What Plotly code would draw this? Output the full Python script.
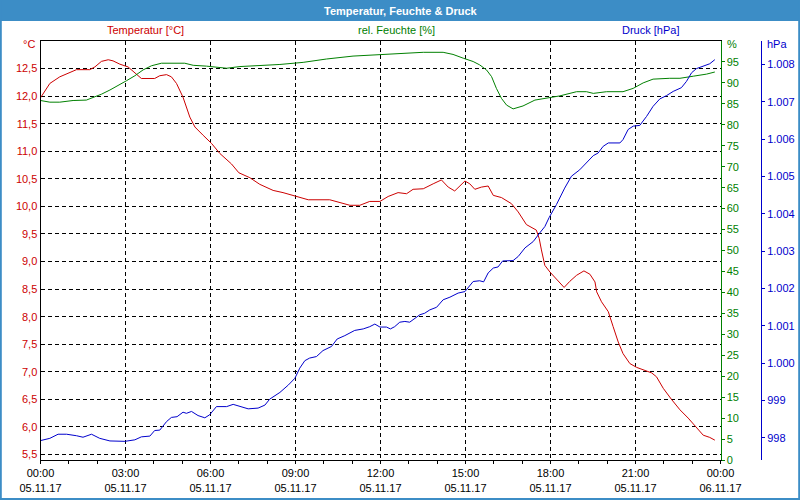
import pandas as pd
import plotly.graph_objects as go

BASE = pd.Timestamp("2017-11-05 00:00")

title_text = "Temperatur, Feuchte & Druck"
series_names = ["Temperatur [°C]", "rel. Feuchte [%]", "Druck [hPa]"]

temp_hours = [0.00, 0.33, 0.68, 1.03, 1.27, 1.74, 1.92, 2.15, 2.39, 2.56, 2.80, 3.09, 3.33, 3.56, 4.03,
              4.21, 4.45, 4.62, 4.80, 5.03, 5.27, 5.45, 5.74, 6.04, 6.33, 6.74, 7.00, 7.39, 7.74, 8.21,
              8.56, 8.92, 9.45, 10.21, 10.56, 10.92, 11.27, 11.62, 11.98, 12.27, 12.62, 12.92, 13.15,
              13.51, 13.86, 14.15, 14.39, 14.62, 14.98, 15.15, 15.33, 15.56, 15.80, 15.98, 16.27, 16.62,
              16.86, 17.03, 17.15, 17.50, 17.60, 17.68, 17.80, 17.98, 18.21, 18.48, 18.68, 18.92, 19.18,
              19.39, 19.57, 19.63, 19.80, 20.04, 20.21, 20.39, 20.56, 20.80, 21.04, 21.27, 21.57, 21.74,
              21.98, 22.27, 22.57, 22.86, 23.13, 23.39, 23.62, 23.80]
temp_values = [11.97, 12.23, 12.35, 12.43, 12.48, 12.48, 12.53, 12.63, 12.66, 12.64, 12.58, 12.53, 12.43,
               12.32, 12.32, 12.37, 12.39, 12.35, 12.23, 11.98, 11.62, 11.44, 11.29, 11.14, 10.96, 10.77,
               10.61, 10.52, 10.40, 10.29, 10.25, 10.20, 10.12, 10.12, 10.07, 10.02, 10.02, 10.09, 10.09,
               10.18, 10.25, 10.23, 10.31, 10.32, 10.41, 10.48, 10.35, 10.28, 10.46, 10.41, 10.31, 10.35,
               10.37, 10.20, 10.16, 10.05, 9.90, 9.75, 9.67, 9.57, 9.42, 9.21, 8.93, 8.81, 8.69, 8.53,
               8.64, 8.75, 8.83, 8.77, 8.63, 8.45, 8.27, 8.09, 7.82, 7.54, 7.33, 7.15, 7.08, 7.04, 6.98,
               6.91, 6.70, 6.50, 6.31, 6.16, 6.00, 5.85, 5.81, 5.76]

hum_hours = [0.00, 0.33, 0.68, 1.15, 1.62, 1.92, 2.15, 2.45, 2.74, 3.03, 3.33, 3.62, 3.92, 4.27, 5.09,
             5.39, 5.86, 6.57, 7.04, 7.74, 8.45, 9.27, 10.09, 11.03, 11.98, 12.92, 13.51, 14.21, 14.56,
             14.92, 15.27, 15.50, 15.74, 15.92, 16.09, 16.27, 16.45, 16.68, 17.03, 17.45, 17.80, 18.33,
             18.92, 19.27, 19.51, 19.98, 20.56, 20.92, 21.27, 21.62, 22.21, 22.57, 23.04, 23.51, 23.80]
hum_values = [85.8, 85.4, 85.4, 85.8, 85.9, 86.6, 87.3, 88.3, 89.3, 90.5, 91.7, 93.1, 94.1, 94.7, 94.7,
              94.2, 94.0, 93.5, 93.9, 94.1, 94.4, 94.9, 95.7, 96.4, 96.8, 97.1, 97.3, 97.3, 96.8,
              95.9, 95.1, 94.3, 93.1, 91.5, 88.7, 86.3, 84.7, 83.8, 84.5, 85.9, 86.3, 86.9,
              87.9, 87.9, 87.5, 87.9, 87.9, 88.7, 90.0, 90.9, 91.1, 91.1, 91.6, 92.1, 92.6]

press_hours = [0.00, 0.33, 0.62, 0.92, 1.27, 1.50, 1.80, 2.09, 2.45, 2.98, 3.33, 3.56, 3.86, 4.03, 4.21,
               4.45, 4.62, 4.82, 5.03, 5.15, 5.33, 5.56, 5.80, 5.97, 6.21, 6.57, 6.80, 7.04, 7.33, 7.68,
               7.92, 8.09, 8.45, 8.75, 8.98, 9.15, 9.33, 9.50, 9.74, 9.97, 10.27, 10.47, 10.74, 11.09,
               11.39, 11.62, 11.80, 11.98, 12.21, 12.35, 12.50, 12.68, 12.86, 13.03, 13.21, 13.39, 13.56,
               13.74, 13.98, 14.21, 14.45, 14.74, 14.98, 15.27, 15.50, 15.64, 15.80, 15.98, 16.15, 16.31,
               16.68, 16.86, 17.10, 17.39, 17.62, 17.80, 17.95, 18.21, 18.50, 18.74, 19.03, 19.27, 19.51,
               19.68, 19.86, 20.04, 20.45, 20.56, 20.74, 20.92, 21.15, 21.39, 21.62, 21.86, 22.10, 22.33,
               22.62, 22.80, 22.98, 23.15, 23.39, 23.62, 23.80]
press_values = [997.93, 997.99, 998.10, 998.10, 998.06, 998.02, 998.10, 997.99, 997.92, 997.91, 997.95,
                998.03, 998.05, 998.20, 998.21, 998.44, 998.55, 998.57, 998.69, 998.66, 998.71, 998.60,
                998.54, 998.62, 998.84, 998.84, 998.90, 998.84, 998.78, 998.80, 998.88, 999.04, 999.22,
                999.42, 999.60, 999.87, 1000.07, 1000.14, 1000.18, 1000.34, 1000.45, 1000.65, 1000.74,
                1000.88, 1000.92, 1000.98, 1001.05, 1000.97, 1000.97, 1000.92, 1000.98, 1001.10, 1001.12,
                1001.10, 1001.19, 1001.30, 1001.34, 1001.43, 1001.50, 1001.70, 1001.77, 1001.88, 1001.92,
                1002.19, 1002.21, 1002.18, 1002.42, 1002.55, 1002.58, 1002.74, 1002.75, 1002.86, 1003.09,
                1003.26, 1003.49, 1003.66, 1003.90, 1004.25, 1004.69, 1005.01, 1005.18, 1005.36, 1005.56,
                1005.63, 1005.81, 1005.90, 1005.90, 1005.99, 1006.26, 1006.35, 1006.37, 1006.61, 1006.88,
                1007.08, 1007.17, 1007.28, 1007.38, 1007.55, 1007.78, 1007.89, 1007.95, 1008.02, 1008.13]

x_tick_hours = [0, 3, 6, 9, 12, 15, 18, 21, 24]
x_tick_labels = ["00:00<br>05.11.17", "03:00<br>05.11.17", "06:00<br>05.11.17", "09:00<br>05.11.17",
                 "12:00<br>05.11.17", "15:00<br>05.11.17", "18:00<br>05.11.17", "21:00<br>05.11.17",
                 "00:00<br>06.11.17"]
temp_ticks = [5.5, 6.0, 6.5, 7.0, 7.5, 8.0, 8.5, 9.0, 9.5, 10.0, 10.5, 11.0, 11.5, 12.0, 12.5]
hum_ticks = list(range(0, 100, 5))
press_ticks = list(range(998, 1009))


def to_time(hours):
    return [BASE + pd.Timedelta(hours=h) for h in hours]


RED = "#CC0000"
GREEN = "#008000"
BLUE = "#0000CC"
BAND = "#3C8DC6"
FONT = "Liberation Sans"

fig = go.Figure()
fig.add_trace(go.Scatter(x=to_time(temp_hours), y=temp_values, mode="lines", name=series_names[0],
                         line=dict(color=RED, width=1), yaxis="y"))
fig.add_trace(go.Scatter(x=to_time(hum_hours), y=hum_values, mode="lines", name=series_names[1],
                         line=dict(color=GREEN, width=1), yaxis="y2"))
fig.add_trace(go.Scatter(x=to_time(press_hours), y=press_values, mode="lines", name=series_names[2],
                         line=dict(color=BLUE, width=1), yaxis="y3"))

x0, x1 = 40.5 / 800, 720.5 / 800
y0, y1 = (500 - 460) / 500, (500 - 41) / 500

fig.update_layout(
    width=800, height=500,
    autosize=False,
    margin=dict(l=0, r=0, t=0, b=0, pad=0),
    paper_bgcolor="white", plot_bgcolor="white",
    showlegend=False,
    separators=",.",
    font=dict(family=FONT, size=11, color="black"),
    xaxis=dict(
        domain=[x0, x1], type="date", automargin=False,
        range=[BASE, BASE + pd.Timedelta(hours=24)],
        tickmode="array", tickvals=to_time(x_tick_hours), ticktext=x_tick_labels,
        ticks="outside", ticklen=3, tickcolor="black",
        showline=True, linecolor="black", linewidth=1, mirror=True,
        showgrid=True, gridcolor="black", gridwidth=1, griddash="4px,3px",
        minor=dict(tickmode="linear", tick0=BASE, dtick=3600000, ticks="outside", ticklen=3,
                   tickcolor="black", showgrid=False),
        tickfont=dict(size=11, color="black"),
        zeroline=False, fixedrange=True,
    ),
    yaxis=dict(
        domain=[y0, y1], range=[5.4, 13.0], automargin=False,
        tickmode="array", tickvals=temp_ticks, tickformat=".1f",
        ticks="", showline=True, linecolor="black", linewidth=1,
        showgrid=True, gridcolor="black", gridwidth=1, griddash="4px,3px",
        tickfont=dict(size=11, color=RED), zeroline=False,
    ),
    yaxis2=dict(
        domain=[y0, y1], range=[0, 100], overlaying="y", side="right", anchor="x", automargin=False,
        tickmode="array", tickvals=hum_ticks,
        ticks="outside", ticklen=3, tickcolor=GREEN,
        showline=True, linecolor=GREEN, linewidth=1,
        showgrid=False, zeroline=False,
        tickfont=dict(size=11, color=GREEN),
    ),
    yaxis3=dict(
        domain=[y0, y1], range=[997.41, 1008.63], overlaying="y", side="right", anchor="free",
        position=761 / 800, automargin=False,
        tickmode="array", tickvals=press_ticks, tickformat=",.0f",
        ticks="outside", ticklen=3, tickcolor=BLUE,
        showline=True, linecolor=BLUE, linewidth=1,
        showgrid=False, zeroline=False,
        tickfont=dict(size=11, color=BLUE),
    ),
    shapes=[
        dict(type="rect", xref="paper", yref="paper", x0=0, x1=1, y0=1 - 21 / 500, y1=1,
             fillcolor=BAND, line=dict(width=0), layer="below"),
        dict(type="rect", xref="paper", yref="paper", x0=0.001, x1=0.999, y0=0.002, y1=1,
             fillcolor="rgba(0,0,0,0)", line=dict(color=BAND, width=2)),
    ],
    annotations=[
        dict(text="<b>" + title_text + "</b>", xref="paper", yref="paper", x=0.5, y=1 - 10.5 / 500,
             xanchor="center", yanchor="middle", showarrow=False,
             font=dict(family=FONT, size=11, color="white")),
        dict(text=series_names[0], xref="paper", yref="paper", x=145 / 800, y=1 - 30 / 500,
             xanchor="center", yanchor="middle", showarrow=False, font=dict(size=11, color=RED)),
        dict(text=series_names[1], xref="paper", yref="paper", x=396 / 800, y=1 - 30 / 500,
             xanchor="center", yanchor="middle", showarrow=False, font=dict(size=11, color=GREEN)),
        dict(text=series_names[2], xref="paper", yref="paper", x=650 / 800, y=1 - 30 / 500,
             xanchor="center", yanchor="middle", showarrow=False, font=dict(size=11, color=BLUE)),
        dict(text="°C", xref="paper", yref="paper", x=37 / 800, y=1 - 44 / 500,
             xanchor="right", yanchor="middle", showarrow=False, font=dict(size=11, color=RED)),
        dict(text="%", xref="paper", yref="paper", x=725 / 800, y=1 - 44 / 500,
             xanchor="left", yanchor="middle", showarrow=False, font=dict(size=11, color=GREEN)),
        dict(text="hPa", xref="paper", yref="paper", x=765 / 800, y=1 - 44 / 500,
             xanchor="left", yanchor="middle", showarrow=False, font=dict(size=11, color=BLUE)),
    ],
)

fig.write_html("out.html", config={"displayModeBar": False},
               post_script="document.body.style.margin='0';document.body.style.overflow='hidden';")
